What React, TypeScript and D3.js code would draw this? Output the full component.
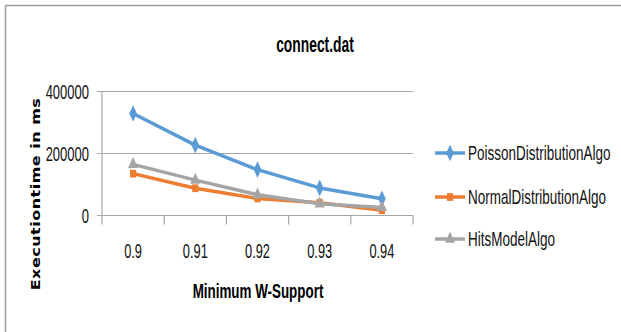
import React from "react";
import * as d3 from "d3";

// Minimum W-Support levels on the x axis
const categories = ["0.9", "0.91", "0.92", "0.93", "0.94"];

// Execution time (ms) per algorithm
const poissonValues = [329000, 227000, 148000, 89000, 54000];
const normalValues = [135000, 88000, 55000, 41000, 17000];
const hitsValues = [165000, 114000, 67000, 38000, 26000];

const seriesNames = ["PoissonDistributionAlgo", "NormalDistributionAlgo", "HitsModelAlgo"];
const yTicks = [0, 200000, 400000];

const W = 621;
const H = 332;

const plot = { left: 102, right: 413, top: 91.5, bottom: 215.5 };

const COLORS = ["#5B9BD5", "#ED7D31", "#A5A5A5"];
const SYMBOLS = [d3.symbolDiamond, d3.symbolSquare, d3.symbolTriangle];
const SYMBOL_SIZES = [80, 60, 70];

const FONT = "'Liberation Sans', Arial, sans-serif";

export default function App() {
  const x = d3
    .scaleBand<string>()
    .domain(categories)
    .range([plot.left, plot.right])
    .padding(0);
  const y = d3.scaleLinear().domain([0, 400000]).range([plot.bottom, plot.top]);

  const series = [poissonValues, normalValues, hitsValues].map((values, i) => ({
    name: seriesNames[i],
    color: COLORS[i],
    symbol: SYMBOLS[i],
    size: SYMBOL_SIZES[i],
    points: categories.map((c, j) => ({ c, v: values[j] })),
  }));

  const line = d3
    .line<{ c: string; v: number }>()
    .x((d) => (x(d.c) as number) + x.bandwidth() / 2)
    .y((d) => y(d.v));

  const boundaries = [...categories.map((c) => x(c) as number), plot.right];

  const legendX = 435;
  const legendRows = [153, 197, 239];

  return (
    <svg
      width={W}
      height={H}
      style={{ position: "absolute", left: 0, top: 0, background: "#fff" }}
    >
      {/* chart frame edges */}
      <line x1={5.5} x2={W} y1={5.5} y2={5.5} stroke="#9a9a9a" strokeWidth={1.5} />
      <line x1={5.5} x2={5.5} y1={5.5} y2={H} stroke="#9a9a9a" strokeWidth={1.5} />

      {/* title */}
      <text
        transform={`translate(315,52) scale(0.63,1)`}
        textAnchor="middle"
        fontFamily={FONT}
        fontWeight="bold"
        fontSize={22}
        fill="#000"
      >
        connect.dat
      </text>

      {/* gridlines and y labels */}
      {yTicks.map((t) => (
        <g key={t}>
          <line
            x1={plot.left - 5}
            x2={plot.right}
            y1={y(t)}
            y2={y(t)}
            stroke="#a6a6a6"
            strokeWidth={1.2}
          />
          <text
            transform={`translate(89,${y(t)}) scale(0.65,1)`}
            dy="0.36em"
            textAnchor="end"
            fontFamily={FONT}
            fontSize={20}
            fill="#111"
          >
            {t}
          </text>
        </g>
      ))}

      {/* y axis line */}
      <line
        x1={plot.left}
        x2={plot.left}
        y1={plot.top}
        y2={plot.bottom}
        stroke="#a6a6a6"
        strokeWidth={1.2}
      />

      {/* x axis tick marks */}
      {boundaries.map((b, i) => (
        <line
          key={i}
          x1={b}
          x2={b}
          y1={plot.bottom}
          y2={plot.bottom + 9}
          stroke="#a6a6a6"
          strokeWidth={1.2}
        />
      ))}

      {/* x tick labels */}
      {categories.map((c) => (
        <text
          key={c}
          transform={`translate(${(x(c) as number) + x.bandwidth() / 2},258) scale(0.64,1)`}
          textAnchor="middle"
          fontFamily={FONT}
          fontSize={20}
          fill="#111"
        >
          {c}
        </text>
      ))}

      {/* series lines and markers */}
      {series.map((s) => (
        <g key={s.name}>
          <path
            d={line(s.points) as string}
            fill="none"
            stroke={s.color}
            strokeWidth={3.5}
            strokeLinejoin="round"
            strokeLinecap="round"
          />
          {s.points.map((p) => (
            <path
              key={p.c}
              d={d3.symbol().type(s.symbol).size(s.size)() as string}
              transform={`translate(${(x(p.c) as number) + x.bandwidth() / 2},${y(p.v)}) scale(0.8,1)`}
              fill={s.color}
            />
          ))}
        </g>
      ))}

      {/* axis titles */}
      <text
        transform={`translate(258,298) scale(0.67,1)`}
        textAnchor="middle"
        fontFamily={FONT}
        fontWeight="bold"
        fontSize={20}
        fill="#000"
      >
        Minimum W-Support
      </text>
      <text
        transform={`translate(40,194) scale(0.78,1) rotate(-90)`}
        textAnchor="middle"
        fontFamily="'DejaVu Sans', Verdana, sans-serif"
        fontWeight="bold"
        fontSize={16}
        letterSpacing={0.5}
        fill="#000"
      >
        Executiontime in ms
      </text>

      {/* legend */}
      {series.map((s, i) => (
        <g key={s.name} transform={`translate(${legendX},${legendRows[i]})`}>
          <line x1={0} x2={30} y1={0} y2={0} stroke={s.color} strokeWidth={3.5} />
          <path
            d={d3.symbol().type(s.symbol).size(s.size)() as string}
            transform="translate(15,0) scale(0.8,1)"
            fill={s.color}
          />
          <text
            transform="translate(33,0) scale(0.675,1)"
            dy="0.36em"
            fontFamily={FONT}
            fontSize={20}
            fill="#111"
          >
            {s.name}
          </text>
        </g>
      ))}
    </svg>
  );
}
